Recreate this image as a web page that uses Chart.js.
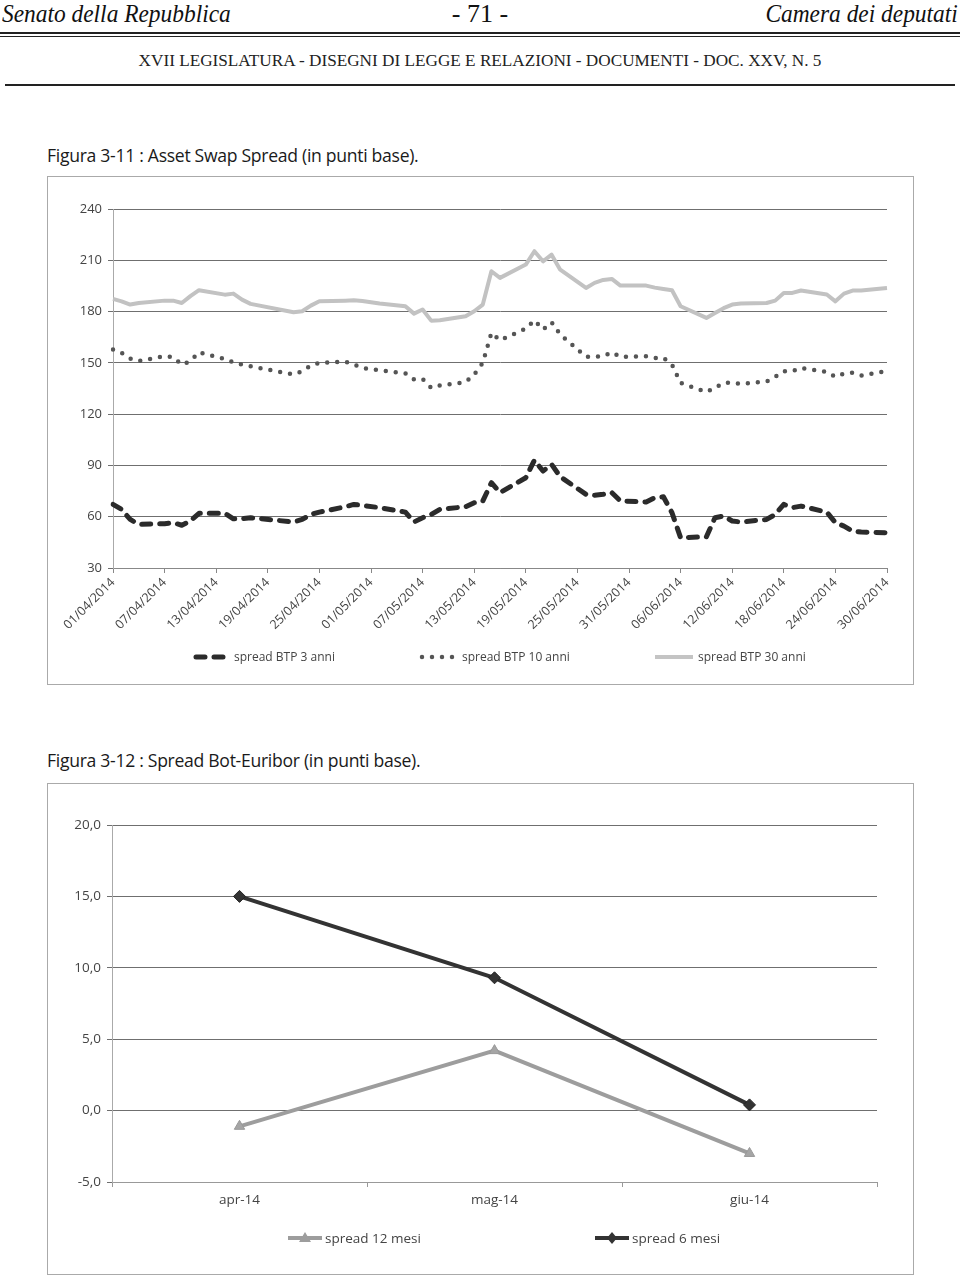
<!DOCTYPE html>
<html lang="it">
<head>
<meta charset="utf-8">
<title>Asset Swap Spread / Spread Bot-Euribor</title>
<script src="https://cdn.jsdelivr.net/npm/chart.js@4.4.1/dist/chart.umd.min.js"></script>
<style>
  html, body { margin: 0; padding: 0; background: #fff; }
  body { width: 960px; height: 1281px; position: relative; overflow: hidden; color: #222; font-family: 'Open Sans', sans-serif; }
  .hd { position: absolute; top: -1px; font-family: 'Liberation Serif', serif; font-size: 26px; line-height: 30px; color: #111; white-space: nowrap; }
  .hd.l { left: 2px; font-style: italic; transform: scaleX(0.9); transform-origin: left center; }
  .hd.r { right: 2px; font-style: italic; transform: scaleX(0.9); transform-origin: right center; }
  .rule { position: absolute; left: 0; right: 0; background: #222; }
  .sub { position: absolute; left: 0; width: 960px; top: 51px; text-align: center; font-family: 'Liberation Serif', serif; font-size: 17.2px; color: #222; white-space: nowrap; }
  .ft { position: absolute; left: 47px; font-size: 17.6px; letter-spacing: -0.3px; color: #1a1a1a; white-space: nowrap; }
  .box { position: absolute; left: 47px; width: 867px; border: 1px solid #aaa; box-sizing: border-box; }
  .box .cw { position: absolute; inset: 0; }
  .lg { position: absolute; display: flex; align-items: center; gap: 5px; font-size: 12px; color: #444; white-space: nowrap; }
  .lg2 { font-size: 13.5px; gap: 2px; }
</style>
</head>
<body>

<div class="hd l">Senato della Repubblica</div>
<div class="hd" style="left:0; width:960px; text-align:center;">- 71 -</div>
<div class="hd r">Camera dei deputati</div>
<div class="rule" style="top:32px; height:2px;"></div>
<div class="rule" style="top:36px; height:1px;"></div>
<div class="sub">XVII LEGISLATURA - DISEGNI DI LEGGE E RELAZIONI - DOCUMENTI - DOC. XXV, N. 5</div>
<div class="rule" style="top:84px; height:2px; left:5px; right:5px;"></div>

<!-- Figura 3-11 -->
<div class="ft" style="top:143px;">Figura 3-11 : Asset Swap Spread (in punti base).</div>
<div class="box" style="top:176px; height:509px;"><div class="cw"><canvas id="asw"></canvas></div></div>

<div class="lg" style="left:193px; top:648px;">
  <svg width="36" height="10"><line x1="3" y1="5" x2="33" y2="5" stroke="#2b2b2b" stroke-width="5" stroke-linecap="round" stroke-dasharray="9 9"/></svg>
  <span>spread BTP 3 anni</span>
</div>
<div class="lg" style="left:419px; top:648px;">
  <svg width="38" height="10"><line x1="3" y1="5" x2="36" y2="5" stroke="#555" stroke-width="4.5" stroke-linecap="round" stroke-dasharray="0 10"/></svg>
  <span>spread BTP 10 anni</span>
</div>
<div class="lg" style="left:655px; top:648px;">
  <svg width="38" height="10"><line x1="0" y1="5" x2="38" y2="5" stroke="#c4c4c4" stroke-width="4"/></svg>
  <span>spread BTP 30 anni</span>
</div>

<!-- Figura 3-12 -->
<div class="ft" style="top:748px;">Figura 3-12 : Spread Bot-Euribor (in punti base).</div>
<div class="box" style="top:783px; height:492px;"><div class="cw"><canvas id="bot"></canvas></div></div>

<div class="lg lg2" style="left:287px; top:1229px;">
  <svg width="36" height="14"><line x1="1" y1="7" x2="35" y2="7" stroke="#9d9d9d" stroke-width="4"/><polygon points="18,1 24,11 12,11" fill="#9d9d9d"/></svg>
  <span>spread 12 mesi</span>
</div>
<div class="lg lg2" style="left:594px; top:1229px;">
  <svg width="36" height="14"><line x1="1" y1="7" x2="35" y2="7" stroke="#333" stroke-width="4"/><polygon points="18,1 23,7 18,13 13,7" fill="#333"/></svg>
  <span>spread 6 mesi</span>
</div>

<script>
/* DATA */

// giorni di mercato (gg/mm/aaaa)
const tradeDays = [
  '01/04/2014','02/04/2014','03/04/2014','04/04/2014','07/04/2014','08/04/2014','09/04/2014','10/04/2014','11/04/2014',
  '14/04/2014','15/04/2014','16/04/2014','17/04/2014','22/04/2014','23/04/2014','24/04/2014','25/04/2014',
  '28/04/2014','29/04/2014','30/04/2014',
  '02/05/2014','05/05/2014','06/05/2014','07/05/2014','08/05/2014','09/05/2014','12/05/2014','13/05/2014',
  '14/05/2014','15/05/2014','16/05/2014','19/05/2014','20/05/2014','21/05/2014','22/05/2014','23/05/2014',
  '26/05/2014','27/05/2014','28/05/2014','29/05/2014','30/05/2014',
  '02/06/2014','03/06/2014','04/06/2014','05/06/2014','06/06/2014','09/06/2014','10/06/2014','11/06/2014',
  '12/06/2014','13/06/2014','16/06/2014','17/06/2014','18/06/2014','19/06/2014','20/06/2014','23/06/2014',
  '24/06/2014','25/06/2014','26/06/2014','27/06/2014','30/06/2014'
];

const btp3 = [
  67.2, 64.3, 58.4, 55.5, 55.9, 56.5, 55.0, 57.5, 62.0, 62.0, 58.8, 58.8, 59.4, 56.9, 58.4, 61.3, 62.7, 65.8, 67.2, 66.6,
  65.3, 62.7, 56.9, 59.4, 61.3, 64.3, 65.8, 68.2, 69.2, 79.9, 74.1, 82.8, 93.1, 86.7, 90.6, 83.4, 73.1, 72.5, 73.1, 74.1, 69.2,
  68.6, 71.1, 71.7, 62.3, 47.7, 48.3, 59.4, 60.4, 57.5, 56.9, 58.4, 61.3, 67.2, 65.3, 66.2, 62.7, 56.5, 54.5, 51.6, 51.0, 50.6
];

const btp10 = [
  157.8, 155.8, 152.5, 151.0, 153.9, 153.3, 149.0, 151.0, 156.2, 152.3, 150.4, 149.0, 148.0, 143.2, 145.1, 148.4, 150.0, 150.8, 149.0, 147.0,
  145.7, 143.8, 140.3, 140.6, 135.4, 136.8, 138.7, 143.2, 150.0, 167.5, 163.2, 170.0, 174.9, 169.5, 173.8, 166.6, 153.5, 153.5, 153.9, 156.2, 153.5,
  153.9, 152.9, 152.9, 149.0, 138.3, 132.9, 135.4, 138.3, 138.3, 137.7, 139.1, 141.8, 145.1, 145.1, 147.0, 144.7, 141.8, 143.8, 144.2, 142.6, 145.3
];

const btp30 = [
  187.4, 186.0, 184.1, 185.0, 186.4, 186.4, 185.0, 189.0, 192.5, 189.9, 190.5, 187.0, 184.5, 179.6, 180.2, 183.5, 186.0, 186.4, 186.6, 186.2,
  184.7, 183.1, 178.8, 181.2, 174.7, 174.9, 177.3, 180.2, 184.1, 203.6, 199.7, 207.5, 215.3, 209.4, 213.3, 204.5, 193.8, 196.8, 198.5, 199.1, 195.2,
  195.2, 194.0, 193.2, 192.5, 183.1, 176.3, 179.2, 182.0, 184.1, 184.7, 185.0, 186.4, 190.9, 190.9, 192.3, 190.0, 186.0, 190.5, 192.3, 192.3, 193.8
];

const aswTicks = [30, 240, 30];   // min, max, passo

const months   = ['apr-14', 'mag-14', 'giu-14'];
const spread12 = [-1.1, 4.2, -3.0];
const spread6  = [15.0, 9.3, 0.4];
const botTicks = [-5, 20, 5];

/* HELPERS */

const pad2 = n => String(n).padStart(2, '0');

// asse temporale continuo: tutti i giorni di calendario 01/04 - 30/06
function calendar(from, to) {
  const out = [];
  for (let d = new Date(from); d <= to; d.setDate(d.getDate() + 1)) {
    out.push(`${pad2(d.getDate())}/${pad2(d.getMonth() + 1)}/${d.getFullYear()}`);
  }
  return out;
}
const calDays = calendar(new Date(2014, 3, 1), new Date(2014, 5, 30));

const pts = vals => tradeDays.map((d, i) => ({ x: d, y: vals[i] }));

const xFont = { family: 'Open Sans', size: 12.5 };
const yFont = { family: 'Open Sans', size: 13 };

/* CHART 3-11 */

new Chart(document.getElementById('asw'), {
  type: 'line',
  data: {
    labels: calDays,
    datasets: [
      { label: 'spread BTP 3 anni',  data: pts(btp3),  borderColor: '#2b2b2b', borderWidth: 5,   borderDash: [9, 9],  borderCapStyle: 'round' },
      { label: 'spread BTP 10 anni', data: pts(btp10), borderColor: '#555555', borderWidth: 4.5, borderDash: [0, 10], borderCapStyle: 'round' },
      { label: 'spread BTP 30 anni', data: pts(btp30), borderColor: '#c2c2c2', borderWidth: 4 },
    ]
  },
  options: {
    responsive: true,
    maintainAspectRatio: false,
    animation: false,
    layout: { padding: { top: 32, right: 26, left: 0, bottom: 0 } },
    elements: { point: { radius: 0 }, line: { tension: 0, borderJoinStyle: 'round' } },
    plugins: { legend: { display: false }, tooltip: { enabled: false } },
    scales: {
      x: {
        offset: false,
        border: { color: '#888' },
        grid: { drawOnChartArea: false, tickLength: 5, color: '#888' },
        afterBuildTicks: s => { s.ticks = s.ticks.filter(t => t.value % 6 === 0); },
        afterFit: s => { s.height = 116; },
        ticks: { autoSkip: false, minRotation: 45, maxRotation: 45, padding: 2, color: '#444', font: xFont }
      },
      y: {
        min: aswTicks[0], max: aswTicks[1],
        border: { color: '#aaa' },
        grid: { color: '#6f6f6f', tickLength: 5 },
        afterFit: s => { s.width = 65; },
        ticks: { stepSize: aswTicks[2], padding: 6, color: '#444', font: yFont }
      }
    }
  }
});

/* CHART 3-12 */

new Chart(document.getElementById('bot'), {
  type: 'line',
  data: {
    labels: months,
    datasets: [
      { label: 'spread 12 mesi', data: spread12, borderColor: '#9d9d9d', backgroundColor: '#a5a5a5', borderWidth: 4,
        pointStyle: 'triangle', pointRadius: 6, pointBorderWidth: 1, pointBorderColor: '#999' },
      { label: 'spread 6 mesi',  data: spread6,  borderColor: '#333333', backgroundColor: '#333333', borderWidth: 4,
        pointStyle: 'rectRot', pointRadius: 6, pointBorderWidth: 1, pointBorderColor: '#222' },
    ]
  },
  options: {
    responsive: true,
    maintainAspectRatio: false,
    animation: false,
    layout: { padding: { top: 41, right: 36, left: 0, bottom: 0 } },
    elements: { line: { tension: 0 } },
    plugins: { legend: { display: false }, tooltip: { enabled: false } },
    scales: {
      x: {
        offset: true,
        border: { color: '#999' },
        grid: { offset: true, drawOnChartArea: false, tickLength: 5, color: '#999' },
        afterFit: s => { s.height = 92; },
        ticks: { padding: 5, color: '#444', font: { family: 'Open Sans', size: 13.5 } }
      },
      y: {
        min: botTicks[0], max: botTicks[1],
        border: { color: '#aaa' },
        grid: { color: '#6f6f6f', tickLength: 5 },
        afterFit: s => { s.width = 64; },
        ticks: { stepSize: botTicks[2], padding: 6, color: '#444', font: { family: 'Open Sans', size: 13.5 },
                 callback: v => v.toFixed(1).replace('.', ',') }
      }
    }
  }
});
</script>
</body>
</html>
